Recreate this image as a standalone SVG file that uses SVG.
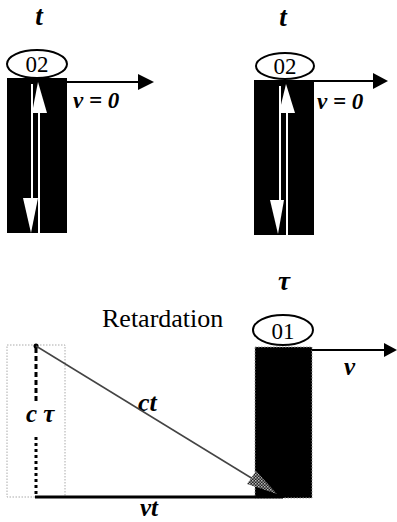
<svg xmlns="http://www.w3.org/2000/svg" width="397" height="522" viewBox="0 0 397 522">
<defs>
<style>
text{font-family:'Liberation Serif','Times New Roman',serif;fill:#000}
.bi{font-weight:bold;font-style:italic}
.bar{fill:#000}
.oval{fill:#fff;stroke:#000;stroke-width:2}
.wl{stroke:#fff;stroke-width:2;fill:none}
.wh{fill:#fff}
.ax{stroke:#000;stroke-width:2.2;fill:none}
.ah{fill:#000}
</style>
<pattern id="dots" width="3" height="3" patternUnits="userSpaceOnUse">
<rect width="3" height="3" fill="#222"/>
<rect width="1.5" height="1.5" fill="#bbb"/>
<rect x="1.5" y="1.5" width="1.5" height="1.5" fill="#999"/>
</pattern>
</defs>
<rect width="397" height="522" fill="#fff"/>

<g id="panel-left">
<text class="bi" x="39" y="25" font-size="27" text-anchor="middle">t</text>
<rect class="bar" x="7" y="78" width="60" height="155"/>
<line class="wl" x1="32" y1="84" x2="32" y2="205"/>
<line class="wl" x1="39" y1="110" x2="39" y2="233"/>
<polygon class="wh" points="38,82 32,113 47,113"/>
<polygon class="wh" points="23,198 38,198 31,233"/>
<ellipse class="oval" cx="37" cy="64" rx="30" ry="14"/>
<text x="37" y="72" font-size="23" text-anchor="middle">02</text>
<text class="bi" x="73" y="108" font-size="23">v = 0</text>
</g>

<g id="panel-right">
<text class="bi" x="283" y="26" font-size="27" text-anchor="middle">t</text>
<rect class="bar" x="254" y="80" width="60" height="155"/>
<line class="wl" x1="280" y1="86" x2="280" y2="207"/>
<line class="wl" x1="287" y1="110" x2="287" y2="235"/>
<polygon class="wh" points="286,84 279,113 295,113"/>
<polygon class="wh" points="270,200 284,200 278,234"/>
<ellipse class="oval" cx="285" cy="66" rx="29" ry="13"/>
<text x="285" y="74" font-size="23" text-anchor="middle">02</text>
<text class="bi" x="317" y="109" font-size="23">v = 0</text>
</g>

<g id="panel-bottom">
<text class="bi" x="284" y="290" font-size="27" text-anchor="middle">τ</text>
<text x="102" y="327" font-size="26">Retardation</text>
<rect x="7" y="345" width="58" height="152" fill="none" stroke="#aaa" stroke-width="1" stroke-dasharray="1.5 1.5"/>
<rect class="bar" x="255" y="347" width="57" height="151" stroke="#999" stroke-width="1" stroke-dasharray="1.5 1.5"/>
<ellipse class="oval" cx="283" cy="330" rx="30" ry="15"/>
<text x="283" y="339" font-size="23" text-anchor="middle">01</text>
<text class="bi" x="344" y="375" font-size="25">v</text>
<text class="bi" x="26" y="422" font-size="25">c τ</text>
<text class="bi" x="138" y="411" font-size="26">ct</text>
<text class="bi" x="140" y="516" font-size="25">vt</text>
</g>

<g id="connectors">
<line class="ax" x1="67" y1="82" x2="140" y2="82"/>
<polygon class="ah" points="154,82 138,74 138,90"/>
<line class="ax" x1="314" y1="81" x2="376" y2="81"/>
<polygon class="ah" points="388,81 373,73 373,89"/>
<line class="ax" x1="312" y1="350" x2="386" y2="350"/>
<polygon class="ah" points="397,350 384,343 384,357"/>
<circle cx="36" cy="346" r="2.5" fill="#000"/>
<line x1="36" y1="348" x2="36" y2="402" stroke="#000" stroke-width="3" stroke-dasharray="5 3"/>
<line x1="36" y1="437" x2="36" y2="495" stroke="#000" stroke-width="3" stroke-dasharray="3 3"/>
<line x1="36" y1="346" x2="253" y2="479" stroke="#444" stroke-width="1.5"/>
<polygon points="277,494 247,484 256,471" fill="url(#dots)"/>
<line x1="35" y1="497" x2="283" y2="497" stroke="#000" stroke-width="3"/>
</g>
</svg>
